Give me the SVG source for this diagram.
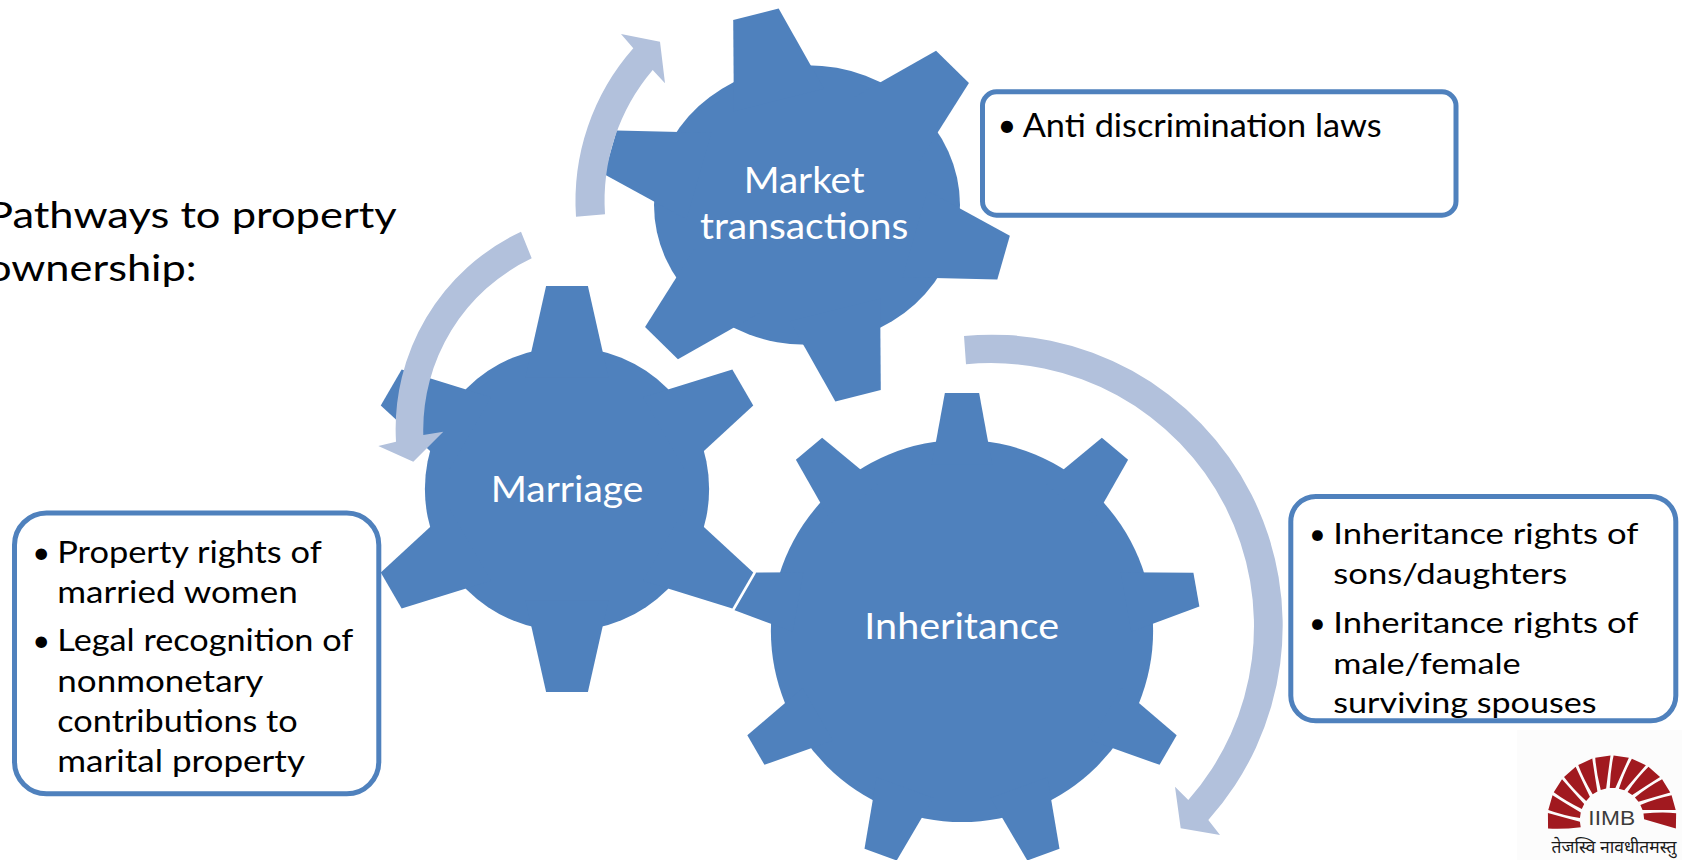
<svg xmlns="http://www.w3.org/2000/svg" xmlns:xlink="http://www.w3.org/1999/xlink" width="1682" height="860" viewBox="0 0 1682 860">
<style>
  .gear{fill:#4F81BD}
  .halo{fill:#FFFFFF;stroke:#FFFFFF;stroke-width:2.6;stroke-linejoin:round}
  .gtxt{font-family:Lato,'Open Sans',sans-serif;fill:#FFFFFF;font-size:37px;text-anchor:middle}
  .box{fill:#FFFFFF;stroke:#4F81BD;stroke-width:5}
  .btxt{font-family:Lato,'Open Sans',sans-serif;fill:#000000}
  .bul{font-family:Lato,'Open Sans',sans-serif;fill:#000000;text-anchor:middle}
  .arrow{fill:#B2C1DC}
  .title{font-family:Lato,'Open Sans',sans-serif;fill:#000000;font-size:37px}
</style>
<defs>
  <polygon id="t6a" points="-20.4,-55 -10.3,-100 10.3,-100 20.4,-55"/>
  <polygon id="t6b" points="-22.8,-55 -11.5,-100 11.5,-100 22.8,-55"/>
  <polygon id="t9" points="-12.7,-70 -7.2,-100 7.2,-100 12.7,-70"/>
  <g id="g6a">
    <circle r="70"/>
    <use href="#t6a"/>
    <use href="#t6a" transform="rotate(60)"/>
    <use href="#t6a" transform="rotate(120)"/>
    <use href="#t6a" transform="rotate(180)"/>
    <use href="#t6a" transform="rotate(240)"/>
    <use href="#t6a" transform="rotate(300)"/>
  </g>
  <g id="g6b">
    <ellipse rx="75" ry="71"/>
    <use href="#t6b" transform="rotate(-14.5)"/>
    <use href="#t6b" transform="rotate(45.5)"/>
    <use href="#t6b" transform="rotate(105.5)"/>
    <use href="#t6b" transform="rotate(165.5)"/>
    <use href="#t6b" transform="rotate(225.5)"/>
    <use href="#t6b" transform="rotate(285.5)"/>
  </g>
  <g id="g9">
    <circle r="80.3"/>
    <use href="#t9"/>
    <use href="#t9" transform="rotate(40)"/>
    <use href="#t9" transform="rotate(80)"/>
    <use href="#t9" transform="rotate(120)"/>
    <use href="#t9" transform="rotate(160)"/>
    <use href="#t9" transform="rotate(200)"/>
    <use href="#t9" transform="rotate(240)"/>
    <use href="#t9" transform="rotate(280)"/>
    <use href="#t9" transform="rotate(320)"/>
  </g>
  <path id="ray" d="M -2.8,-32 Q -2.5,-50 0.5,-64.5 L 15.8,-62.5 Q 9,-47 2.8,-32 Z"/>
</defs>

<rect width="1682" height="860" fill="#FFFFFF"/>

<g id="title">
  <text class="title" x="-13" y="228" textLength="409.7" lengthAdjust="spacingAndGlyphs">Pathways to property</text>
  <text class="title" x="-13" y="281" textLength="209.7" lengthAdjust="spacingAndGlyphs">ownership:</text>
</g>

<g id="inheritance">
  <g transform="translate(962,631) scale(2.38)">
    <use href="#g9" class="halo"/>
    <use href="#g9" class="gear"/>
  </g>
  <text class="gtxt" x="961.7" y="639.3" textLength="194.7" lengthAdjust="spacingAndGlyphs">Inheritance</text>
</g>

<g id="market">
  <g transform="translate(807,205) scale(2.04,1.97)">
    <use href="#g6b" class="halo"/>
    <use href="#g6b" class="gear"/>
  </g>
  <text class="gtxt" x="804.2" y="192.7" textLength="121" lengthAdjust="spacingAndGlyphs">Market</text>
  <text class="gtxt" x="804.2" y="239.3" textLength="208.3" lengthAdjust="spacingAndGlyphs">transactions</text>
</g>

<g id="marriage">
  <g transform="translate(567,489) scale(2.03)">
    <use href="#g6a" class="halo"/>
    <use href="#g6a" class="gear"/>
  </g>
  <text class="gtxt" x="567" y="501.7" textLength="152.7" lengthAdjust="spacingAndGlyphs">Marriage</text>
</g>

<g id="connectors">
  <path class="arrow" d="M 576,216.7 A 231 231 0 0 1 633.3,48.3 L 621,34 L 660,41.7 L 665,83.3 L 652.7,70 A 202 202 0 0 0 605,214.3 Z"/>
  <path class="arrow" d="M 521,231.7 A 218 218 0 0 0 396,441.7 L 378.3,446 L 413.3,461.7 L 443.3,431.7 L 423.3,435 A 190 190 0 0 1 531.7,258.3 Z"/>
  <path class="arrow" d="M 964,336 A 291 291 0 0 1 1208.3,820 L 1220,835 L 1180.7,828.3 L 1175,786.7 L 1188.3,800 A 263 263 0 0 0 966,364.3 Z"/>
</g>

<g id="box-market">
  <rect class="box" x="982.5" y="91.8" width="473.5" height="123.4" rx="14" ry="14"/>
  <text class="bul" x="1007" y="136.7" font-size="32.5">•</text>
  <text class="btxt" x="1022.7" y="136.7" font-size="32.5" textLength="359" lengthAdjust="spacingAndGlyphs">Anti discrimination laws</text>
</g>

<g id="box-marriage">
  <rect class="box" x="14.5" y="513" width="364.3" height="280.8" rx="32" ry="32"/>
  <text class="bul" x="41.3" y="562.7" font-size="31">•</text>
  <text class="btxt" x="57.3" y="562.7" font-size="31" textLength="264.4" lengthAdjust="spacingAndGlyphs">Property rights of</text>
  <text class="btxt" x="57.3" y="602.7" font-size="31" textLength="240.4" lengthAdjust="spacingAndGlyphs">married women</text>
  <text class="bul" x="41.3" y="651" font-size="31">•</text>
  <text class="btxt" x="57.3" y="651" font-size="31" textLength="296" lengthAdjust="spacingAndGlyphs">Legal recognition of</text>
  <text class="btxt" x="57.3" y="691.7" font-size="31" textLength="206" lengthAdjust="spacingAndGlyphs">nonmonetary</text>
  <text class="btxt" x="57.3" y="731.7" font-size="31" textLength="240.4" lengthAdjust="spacingAndGlyphs">contributions to</text>
  <text class="btxt" x="57.3" y="771.7" font-size="31" textLength="247.7" lengthAdjust="spacingAndGlyphs">marital property</text>
</g>

<g id="box-inheritance">
  <rect class="box" x="1290.8" y="496.5" width="385" height="224.3" rx="25" ry="25"/>
  <text class="bul" x="1317.5" y="544" font-size="29">•</text>
  <text class="btxt" x="1333.3" y="544" font-size="29" textLength="305" lengthAdjust="spacingAndGlyphs">Inheritance rights of</text>
  <text class="btxt" x="1333.3" y="584.3" font-size="29" textLength="234" lengthAdjust="spacingAndGlyphs">sons/daughters</text>
  <text class="bul" x="1317.5" y="633.3" font-size="29">•</text>
  <text class="btxt" x="1333.3" y="633.3" font-size="29" textLength="305" lengthAdjust="spacingAndGlyphs">Inheritance rights of</text>
  <text class="btxt" x="1333.3" y="674" font-size="29" textLength="187.3" lengthAdjust="spacingAndGlyphs">male/female</text>
  <text class="btxt" x="1333.3" y="713.3" font-size="29" textLength="263.3" lengthAdjust="spacingAndGlyphs">surviving spouses</text>
</g>

<g id="logo">
  <rect x="1517" y="730" width="165" height="130" fill="#FCFCFC"/>
  <g transform="translate(1612,820)" fill="#A1191F">
    <use href="#ray" transform="rotate(-98)"/>
    <use href="#ray" transform="rotate(-81.5)"/>
    <use href="#ray" transform="rotate(-65)"/>
    <use href="#ray" transform="rotate(-48.5)"/>
    <use href="#ray" transform="rotate(-32)"/>
    <use href="#ray" transform="rotate(-15.5)"/>
    <use href="#ray" transform="rotate(1)"/>
    <use href="#ray" transform="rotate(17.5)"/>
    <use href="#ray" transform="rotate(34)"/>
    <use href="#ray" transform="rotate(50.5)"/>
    <use href="#ray" transform="rotate(67)"/>
    <use href="#ray" transform="rotate(83.5)"/>
  </g>
  <text x="1611.7" y="825" font-family="'Liberation Sans',Arial,sans-serif" font-size="21" text-anchor="middle" fill="#3C3C3C" textLength="46.7" lengthAdjust="spacingAndGlyphs">IIMB</text>
  <text x="1614" y="853" font-family="'Noto Sans Devanagari','Lohit Devanagari','Noto Sans',sans-serif" font-size="17" text-anchor="middle" fill="#1A1A1A" textLength="125" lengthAdjust="spacingAndGlyphs">तेजस्वि नावधीतमस्तु</text>
</g>
</svg>
